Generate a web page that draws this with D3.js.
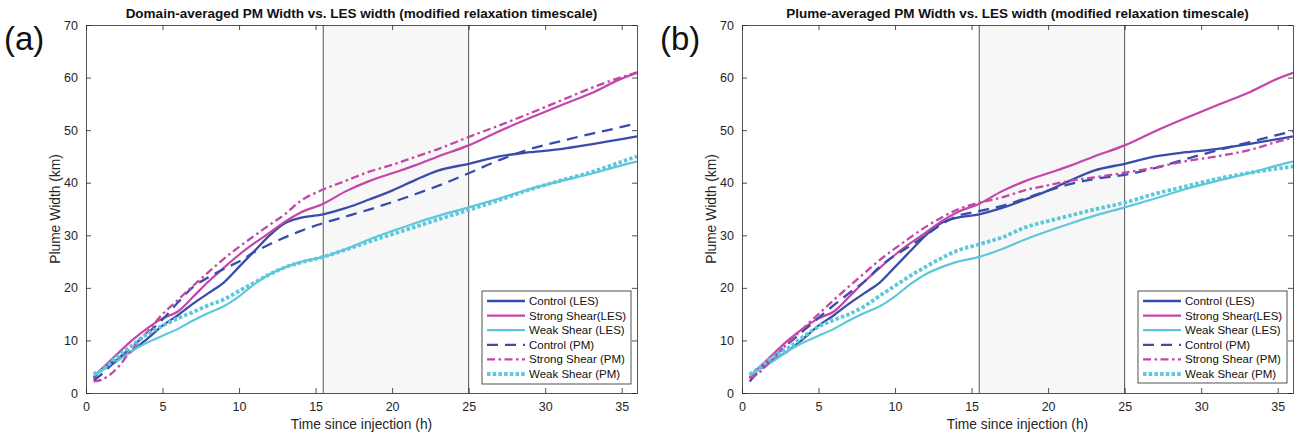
<!DOCTYPE html>
<html>
  <head>
    <meta charset="utf-8" />
    <title>Plume width: PM vs LES</title>
    <script src="https://d3js.org/d3.v7.min.js"></script>
    <style>
      body {
        margin: 0;
        background: #fff;
        font-family: "Liberation Sans", Arial, sans-serif;
      }
    </style>
  </head>
  <body>
    <svg width="1296" height="435"></svg>

    <script>
      // time grid (h)
      const time = [0.5, 1, 2, 3, 4, 5, 6, 7, 8, 9, 10, 11, 12, 13, 14, 15.5, 17, 18.5, 20, 21.5, 23, 25, 27, 29, 31, 33, 35, 36];

      // LES widths (same in both panels)
      const controlLES = [2.8, 4.5, 6.3, 8, 10.3, 12.8, 14.8, 17, 19, 21, 24, 27, 30, 32.3, 33.3, 34, 35.2, 36.8, 38.5, 40.5, 42.3, 43.6, 45, 45.8, 46.4, 47.3, 48.3, 48.8];
      const strongLES = [3, 4.5, 7.3, 10, 12.3, 14.2, 15.5, 18.3, 21.2, 23.8, 26.3, 28.5, 30.5, 32.6, 34.3, 36, 38.4, 40.3, 41.8, 43.3, 45, 47.1, 49.8, 52.3, 54.7, 57, 59.8, 60.9];
      const weakLES = [3.3, 4.2, 6, 8, 9.6, 10.9, 12.2, 13.8, 15.2, 16.5, 18.4, 20.7, 22.6, 23.9, 24.9, 25.9, 27.4, 29.2, 30.8, 32.3, 33.7, 35.3, 37, 38.8, 40.3, 41.7, 43.3, 44];

      // PM widths, panel (a): domain-averaged
      const controlPMa = [2.4, 3.5, 6.3, 8.8, 11.3, 14, 17.2, 20.2, 22, 23.6, 25, 26.8, 28.3, 29.6, 30.8, 32.3, 33.6, 34.9, 36.3, 37.8, 39.4, 41.8, 44.3, 46.4, 47.9, 49.3, 50.6, 51.3];
      const strongPMa = [2.2, 2.5, 4.6, 8.3, 11.6, 15, 17.7, 20.4, 23, 25.5, 27.8, 29.9, 32, 34, 36.5, 38.7, 40.4, 42.1, 43.4, 44.9, 46.4, 48.7, 50.9, 53.2, 55.6, 58, 60.1, 61];
      const weakPMa = [3.6, 4.3, 6.8, 9, 11.2, 12.8, 14.2, 15.4, 16.7, 17.8, 19.4, 21, 22.6, 23.9, 24.8, 25.9, 27.3, 28.8, 30.2, 31.6, 33, 34.8, 36.7, 38.7, 40.4, 42, 44, 45];

      // PM widths, panel (b): plume-averaged
      const controlPMb = [2.2, 3.8, 6.6, 9.3, 11.8, 14.3, 16.7, 19, 21.2, 24, 26.2, 28, 30, 32, 33.6, 34.6, 35.6, 37, 38.5, 39.8, 40.7, 41.5, 42.8, 44.5, 46.1, 47.6, 49.1, 49.8];
      const strongPMb = [2.8, 3.6, 6.5, 9.5, 12.3, 15, 17.7, 20.3, 22.8, 25.3, 27.5, 29.6, 31.6, 33.3, 34.8, 36.2, 37.2, 38.6, 39.5, 40.4, 41, 41.9, 42.9, 44.1, 45, 46.1, 47.8, 48.6];
      const weakPMb = [3.5, 4.5, 6.8, 8.5, 10.7, 12.6, 13.9, 15, 16.5, 18.5, 20.4, 22.3, 24, 25.6, 27, 28.3, 29.6, 31.5, 32.7, 33.8, 34.9, 36.2, 37.9, 39.3, 40.7, 41.8, 42.7, 43.1];

      const xTicks = [0, 5, 10, 15, 20, 25, 30, 35];
      const yTicks = [0, 10, 20, 30, 40, 50, 60, 70];
      const shadeRange = [15.5, 25];

      const seriesNames = ["Control (LES)", "Strong Shear(LES)", "Weak Shear (LES)", "Control (PM)", "Strong Shear (PM)", "Weak Shear (PM)"];

      const blue = "#3a4caa", magenta = "#c346a8", cyan = "#5ec8da";
      const styles = [
        { color: blue, width: 2.3, dash: null },
        { color: magenta, width: 2.2, dash: null },
        { color: cyan, width: 2.2, dash: null },
        { color: blue, width: 2.3, dash: "11,7" },
        { color: magenta, width: 2.3, dash: "8,3.5,2.5,3.5" },
        { color: cyan, width: 3.8, dash: "3.5,2.2" }
      ];

      const panels = [
        {
          tag: "(a)",
          title: "Domain-averaged PM Width vs. LES width (modified relaxation timescale)",
          left: 86, right: 637,
          series: [controlLES, strongLES, weakLES, controlPMa, strongPMa, weakPMa],
          legend: { x: 482, y: 291, w: 149, h: 93 }
        },
        {
          tag: "(b)",
          title: "Plume-averaged PM Width vs. LES width (modified relaxation timescale)",
          left: 742, right: 1293,
          series: [controlLES, strongLES, weakLES, controlPMb, strongPMb, weakPMb],
          legend: { x: 1138, y: 291, w: 149, h: 92 }
        }
      ];

      const svg = d3.select("svg");
      const yTop = 25, yBottom = 393;
      const axisColor = "#262626";

      panels.forEach((p, pi) => {
        const x = d3.scaleLinear().domain([0, 36]).range([p.left, p.right]);
        const y = d3.scaleLinear().domain([0, 70]).range([yBottom, yTop]);
        const g = svg.append("g");

        // clip
        const clipId = "clip" + pi;
        svg.append("clipPath").attr("id", clipId)
          .append("rect")
          .attr("x", p.left).attr("y", yTop)
          .attr("width", p.right - p.left).attr("height", yBottom - yTop);

        // shaded window
        g.append("rect")
          .attr("x", x(shadeRange[0])).attr("y", yTop)
          .attr("width", x(shadeRange[1]) - x(shadeRange[0]))
          .attr("height", yBottom - yTop)
          .attr("fill", "#f7f7f7");
        shadeRange.forEach(v => {
          g.append("line")
            .attr("x1", x(v)).attr("x2", x(v))
            .attr("y1", yTop).attr("y2", yBottom)
            .attr("stroke", "#555").attr("stroke-width", 1);
        });

        // axes (MATLAB-style inward ticks, box on)
        const tl = 5;
        const xb = g.append("g").attr("transform", `translate(0,${yBottom})`)
          .call(d3.axisBottom(x).tickValues(xTicks).tickSizeInner(-tl).tickSizeOuter(0).tickPadding(9));
        const xt = g.append("g").attr("transform", `translate(0,${yTop})`)
          .call(d3.axisTop(x).tickValues(xTicks).tickSizeInner(-tl).tickSizeOuter(0).tickFormat(""));
        const yl = g.append("g").attr("transform", `translate(${p.left},0)`)
          .call(d3.axisLeft(y).tickValues(yTicks).tickSizeInner(-tl).tickSizeOuter(0).tickPadding(8));
        const yr = g.append("g").attr("transform", `translate(${p.right},0)`)
          .call(d3.axisRight(y).tickValues(yTicks).tickSizeInner(-tl).tickSizeOuter(0).tickFormat(""));
        [xb, xt, yl, yr].forEach(a => {
          a.selectAll("path").attr("stroke", axisColor).attr("stroke-width", 0.8);
          a.selectAll("line").attr("stroke", axisColor).attr("stroke-width", 0.8);
          a.selectAll("text").attr("fill", axisColor)
            .style("font-family", '"Liberation Sans", Arial, sans-serif')
            .style("font-size", "12.5px");
        });

        // lines
        const line = d3.line()
          .x((d, i) => x(time[i]))
          .y(d => y(d))
          .curve(d3.curveMonotoneX);
        const lg = g.append("g").attr("clip-path", `url(#${clipId})`);
        p.series.forEach((s, si) => {
          const st = styles[si];
          lg.append("path")
            .datum(s)
            .attr("d", line)
            .attr("fill", "none")
            .attr("stroke", st.color)
            .attr("stroke-width", st.width)
            .attr("stroke-dasharray", st.dash)
            .attr("stroke-linejoin", "round");
        });

        // title
        g.append("text")
          .attr("x", (p.left + p.right) / 2).attr("y", 18)
          .attr("text-anchor", "middle")
          .style("font-size", "13.5px").style("font-weight", "bold")
          .attr("fill", "#111")
          .text(p.title);

        // panel tag
        g.append("text")
          .attr("x", p.left - 82).attr("y", 50)
          .style("font-size", "33px")
          .attr("fill", "#111")
          .text(p.tag);

        // axis labels
        g.append("text")
          .attr("x", (p.left + p.right) / 2).attr("y", 429)
          .attr("text-anchor", "middle")
          .style("font-size", "13.8px")
          .attr("fill", axisColor)
          .text("Time since injection (h)");
        g.append("text")
          .attr("transform", `translate(${p.left - 26},${(yTop + yBottom) / 2}) rotate(-90)`)
          .attr("text-anchor", "middle")
          .style("font-size", "13.8px")
          .attr("fill", axisColor)
          .text("Plume Width (km)");

        // legend
        const L = p.legend;
        const leg = g.append("g");
        leg.append("rect")
          .attr("x", L.x).attr("y", L.y).attr("width", L.w).attr("height", L.h)
          .attr("fill", "#fff").attr("stroke", axisColor).attr("stroke-width", 0.8);
        const rowH = 14.6;
        seriesNames.forEach((name, si) => {
          const st = styles[si];
          const cy = L.y + 10 + si * rowH;
          leg.append("line")
            .attr("x1", L.x + 5).attr("x2", L.x + 43)
            .attr("y1", cy).attr("y2", cy)
            .attr("stroke", st.color)
            .attr("stroke-width", st.width)
            .attr("stroke-dasharray", st.dash);
          leg.append("text")
            .attr("x", L.x + 47).attr("y", cy + 4)
            .style("font-size", "11.5px")
            .attr("fill", "#111")
            .text(name);
        });
      });
    </script>
  </body>
</html>
